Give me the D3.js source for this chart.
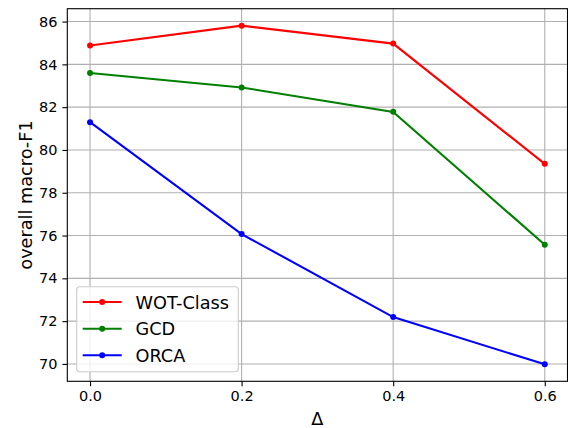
<!DOCTYPE html>
<html>
<head>
<meta charset="utf-8">
<script src="https://cdn.jsdelivr.net/npm/d3@7"></script>
<style>
  body { margin: 0; background: #fff; }
  text { font-family: "DejaVu Sans", sans-serif; }
</style>
</head>
<body>
<svg id="chart" width="568" height="428"></svg>
<script>
// values
const deltas = [0.0, 0.2, 0.4, 0.6];
const wotClass = [84.88, 85.81, 84.97, 79.35];
const gcd = [83.60, 82.92, 81.78, 75.57];
const orca = [81.30, 76.07, 72.19, 69.98];
const seriesNames = ["WOT-Class", "GCD", "ORCA"];
const xTicks = [0.0, 0.2, 0.4, 0.6];
const yTicks = [70, 72, 74, 76, 78, 80, 82, 84, 86];

const series = [
    {name: seriesNames[0], values: wotClass, color: "#ff0000"},
    {name: seriesNames[1], values: gcd, color: "#008000"},
    {name: seriesNames[2], values: orca, color: "#0000ff"}
];

const plotLeft = 67.3, plotRight = 567.5, plotTop = 8.7, plotBottom = 381.3;
const svg = d3.select("#chart");

// matplotlib-like 5% margins
const x = d3.scaleLinear().domain([-0.03, 0.63]).range([plotLeft, plotRight]);
const allVals = wotClass.concat(gcd, orca);
const yMin = d3.min(allVals), yMax = d3.max(allVals);
const pad = (yMax - yMin) * 0.05;
const y = d3.scaleLinear().domain([yMin - pad, yMax + pad]).range([plotBottom, plotTop]);

// grid
const grid = svg.append("g");
grid.selectAll("line.gx").data(xTicks).join("line")
    .attr("class", "gx")
    .attr("x1", d => x(d)).attr("x2", d => x(d))
    .attr("y1", plotTop).attr("y2", plotBottom)
    .attr("stroke", "#b0b0b0").attr("stroke-width", 1.1);
grid.selectAll("line.gy").data(yTicks).join("line")
    .attr("class", "gy")
    .attr("x1", plotLeft).attr("x2", plotRight)
    .attr("y1", d => y(d)).attr("y2", d => y(d))
    .attr("stroke", "#b0b0b0").attr("stroke-width", 1.1);

// lines + markers
const line = d3.line().x((d, i) => x(deltas[i])).y(d => y(d));
series.forEach(s => {
    svg.append("path")
        .datum(s.values)
        .attr("d", line)
        .attr("fill", "none")
        .attr("stroke", s.color)
        .attr("stroke-width", 2.1);
    svg.append("g").selectAll("circle").data(s.values).join("circle")
        .attr("cx", (d, i) => x(deltas[i]))
        .attr("cy", d => y(d))
        .attr("r", 3)
        .attr("fill", s.color);
});

// axes
const xAxis = d3.axisBottom(x).tickValues(xTicks).tickFormat(d3.format(".1f")).tickSizeOuter(0).tickSize(4.9).tickPadding(4.9);
const yAxis = d3.axisLeft(y).tickValues(yTicks).tickFormat(d3.format("d")).tickSizeOuter(0).tickSize(4.9).tickPadding(4.9);

const gx = svg.append("g").attr("transform", `translate(0,${plotBottom})`).call(xAxis);
const gy = svg.append("g").attr("transform", `translate(${plotLeft},0)`).call(yAxis);
[gx, gy].forEach(g => {
    g.select(".domain").remove();
    g.selectAll("line").attr("stroke", "#000").attr("stroke-width", 1.1);
    g.selectAll("text").attr("font-size", "14.5px").attr("fill", "#000")
        .style("font-family", "DejaVu Sans, sans-serif");
});

// frame
svg.append("rect")
    .attr("x", plotLeft).attr("y", plotTop)
    .attr("width", plotRight - plotLeft).attr("height", plotBottom - plotTop)
    .attr("fill", "none").attr("stroke", "#000").attr("stroke-width", 1.1);

// labels
svg.append("text")
    .attr("x", (plotLeft + plotRight) / 2).attr("y", 425)
    .attr("text-anchor", "middle").attr("font-size", "17.7px")
    .text("Δ");
svg.append("text")
    .attr("transform", `translate(31.5,${(plotTop + plotBottom) / 2}) rotate(-90)`)
    .attr("text-anchor", "middle").attr("font-size", "17.7px")
    .text("overall macro-F1");

// legend
const legend = svg.append("g");
legend.append("rect")
    .attr("x", 76.7).attr("y", 286.7).attr("width", 161.6).attr("height", 85)
    .attr("rx", 3).attr("fill", "#fff").attr("fill-opacity", 0.8)
    .attr("stroke", "#cccccc").attr("stroke-width", 1.1);
const rowY = [302, 328.7, 355.3];
series.forEach((s, i) => {
    legend.append("line")
        .attr("x1", 82.7).attr("x2", 121.7).attr("y1", rowY[i]).attr("y2", rowY[i])
        .attr("stroke", s.color).attr("stroke-width", 2.1);
    legend.append("circle")
        .attr("cx", 102.2).attr("cy", rowY[i]).attr("r", 3).attr("fill", s.color);
    legend.append("text")
        .attr("x", 135.5).attr("y", rowY[i]).attr("dy", "0.37em")
        .attr("font-size", "17.7px").text(s.name);
});
</script>
</body>
</html>
